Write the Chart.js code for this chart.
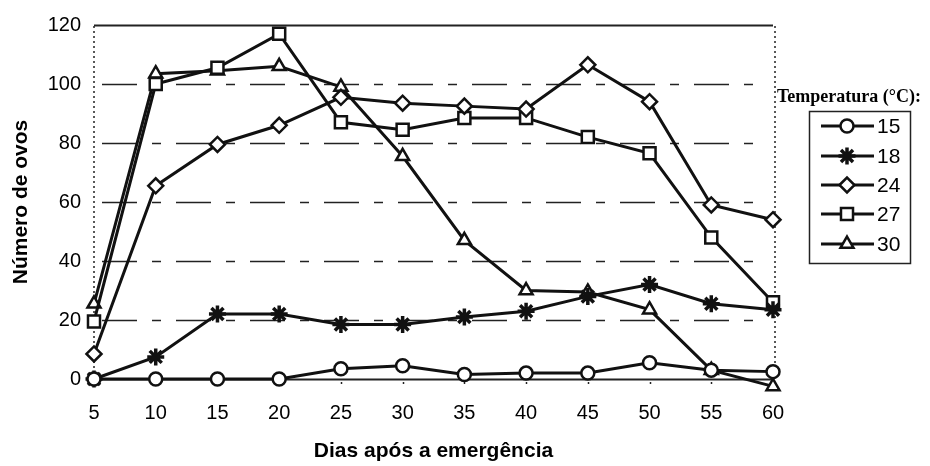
<!DOCTYPE html>
<html>
<head>
<meta charset="utf-8">
<title>Número de ovos</title>
<script src="https://cdn.jsdelivr.net/npm/chart.js"></script>
<style>
  html, body { margin: 0; padding: 0; background: #fff; }
  #wrap { width: 930px; height: 466px; }
</style>
</head>
<body>
<div id="wrap"><canvas id="line-chart"></canvas></div>
<script>
// Ovos por dia, por temperatura

var dias = ['5', '10', '15', '20', '25', '30', '35', '40', '45', '50', '55', '60'];
var temperaturas = ['15', '18', '24', '27', '30'];
var ovos15 = [0, 0, 0, 0, 3.5, 4.5, 1.5, 2, 2, 5.5, 3, 2.5];
var ovos18 = [0, 7.5, 22, 22, 18.5, 18.5, 21, 23, 28, 32, 25.5, 23.5];
var ovos24 = [8.5, 65.5, 79.5, 86, 95.5, 93.5, 92.5, 91.5, 106.5, 94, 59, 54];
var ovos27 = [19.5, 100, 105.5, 117, 87, 84.5, 88.5, 88.5, 82, 76.5, 48, 26];
var ovos30 = [25.5, 103.5, 104.5, 106, 99, 75.5, 47, 30, 29.5, 23.5, 3, -2.5];
var yTicks = [0, 20, 40, 60, 80, 100, 120];

var black = '#111';
var marcadores = ['circle', 'star', 'rectRot', 'rect', 'triangle'];
var raios = [6.5, 8.5, 7.5, 8.5, 7.5];
var bordas = [2.5, 3.5, 2.5, 2.5, 2.5];
var series = [ovos15, ovos18, ovos24, ovos27, ovos30];

var datasets = series.map(function (vals, i) {
    return {
        label: temperaturas[i],
        data: vals,
        borderColor: black,
        backgroundColor: '#fff',
        borderWidth: 3,
        pointStyle: marcadores[i],
        pointRadius: raios[i],
        pointBorderWidth: bordas[i],
        pointBorderColor: black,
        pointBackgroundColor: '#fff',
        tension: 0,
        clip: false
    };
});

// grid: dashed lines, solid top and bottom, dotted sides
var gridPlugin = {
    id: 'gridPlugin',
    beforeDatasetsDraw: function (chart) {
        var ctx = chart.ctx, a = chart.chartArea, y = chart.scales.y;
        ctx.save();
        ctx.strokeStyle = '#222';
        yTicks.forEach(function (v) {
            var py = Math.round(y.getPixelForValue(v)) + 0.5;
            ctx.beginPath();
            if (v === 0 || v === 120) {
                ctx.setLineDash([]);
                ctx.lineWidth = 2;
                ctx.moveTo(a.left, py);
                ctx.lineTo(a.right, py);
            } else {
                ctx.setLineDash([35, 15, 9, 15]);
                ctx.lineDashOffset = -6;
                ctx.lineWidth = 1.6;
                ctx.moveTo(a.left + 2, py);
                ctx.lineTo(a.right - 10, py);
            }
            ctx.stroke();
        });
        ctx.setLineDash([2, 3]);
        ctx.lineWidth = 1.5;
        [a.left, a.right + 2].forEach(function (px) {
            ctx.beginPath();
            ctx.moveTo(px, a.top);
            ctx.lineTo(px, a.bottom);
            ctx.stroke();
        });
        // small ticks under the x axis
        var x = chart.scales.x;
        dias.forEach(function (d, i) {
            var px = Math.round(x.getPixelForValue(i)) + 0.5;
            ctx.beginPath();
            ctx.moveTo(px, a.bottom + 2);
            ctx.lineTo(px, a.bottom + 8);
            ctx.stroke();
        });
        ctx.restore();
    }
};

// legend with line + marker, boxed, at the right
var legendPlugin = {
    id: 'legendPlugin',
    afterDraw: function (chart) {
        var ctx = chart.ctx;
        ctx.save();
        ctx.fillStyle = '#000';
        ctx.font = 'bold 18px "Liberation Serif", "Times New Roman", serif';
        ctx.textBaseline = 'middle';
        ctx.textAlign = 'left';
        ctx.fillText('Temperatura (°C):', 777, 97);

        ctx.strokeStyle = '#222';
        ctx.lineWidth = 1.5;
        ctx.strokeRect(809.5, 111.5, 101, 152);

        var ys = [126, 156, 185, 214, 244];
        ctx.font = '21px "Liberation Sans", Arial, sans-serif';
        temperaturas.forEach(function (t, i) {
            var ly = ys[i];
            ctx.strokeStyle = black;
            ctx.lineWidth = 3;
            ctx.setLineDash([]);
            ctx.beginPath();
            ctx.moveTo(821, ly);
            ctx.lineTo(874, ly);
            ctx.stroke();
            var opts = {
                pointStyle: marcadores[i],
                radius: raios[i],
                rotation: 0,
                borderWidth: bordas[i]
            };
            ctx.fillStyle = '#fff';
            ctx.strokeStyle = black;
            ctx.lineWidth = bordas[i];
            Chart.helpers.drawPoint(ctx, opts, 847, ly);
            ctx.fillStyle = '#000';
            ctx.fillText(t, 877, ly + 1);
        });
        ctx.restore();
    }
};

var lineChart = document.getElementById('line-chart');
var lineCtx = lineChart.getContext('2d');
var lineConfig = new Chart(lineCtx, {
    type: 'line',
    data: {
        labels: dias,
        datasets: datasets
    },
    options: {
        responsive: true,
        maintainAspectRatio: false,
        animation: false,
        layout: {
            padding: { left: 0, right: 157, top: 23, bottom: 0 }
        },
        plugins: {
            legend: { display: false },
            tooltip: { enabled: false }
        },
        scales: {
            x: {
                offset: false,
                grid: { display: false, drawTicks: false },
                border: { display: false },
                ticks: {
                    color: '#000',
                    padding: 22,
                    maxRotation: 0,
                    font: { family: '"Liberation Sans", Arial, sans-serif', size: 20 }
                },
                title: {
                    display: true,
                    text: 'Dias após a emergência',
                    color: '#000',
                    font: { family: '"Liberation Sans", Arial, sans-serif', size: 21, weight: 'bold' },
                    padding: { top: 0, bottom: 2 }
                },
                afterFit: function (scale) { scale.height = 87; }
            },
            y: {
                min: 0,
                max: 120,
                grid: { display: false, drawTicks: false },
                border: { display: false },
                ticks: {
                    stepSize: 20,
                    color: '#000',
                    padding: 13,
                    font: { family: '"Liberation Sans", Arial, sans-serif', size: 20 }
                },
                title: {
                    display: true,
                    text: 'Número de ovos',
                    color: '#000',
                    font: { family: '"Liberation Sans", Arial, sans-serif', size: 21, weight: 'bold' },
                    padding: { top: 9, bottom: 0 }
                },
                afterFit: function (scale) { scale.width = 94; }
            }
        }
    },
    plugins: [gridPlugin, legendPlugin]
});
</script>
</body>
</html>
